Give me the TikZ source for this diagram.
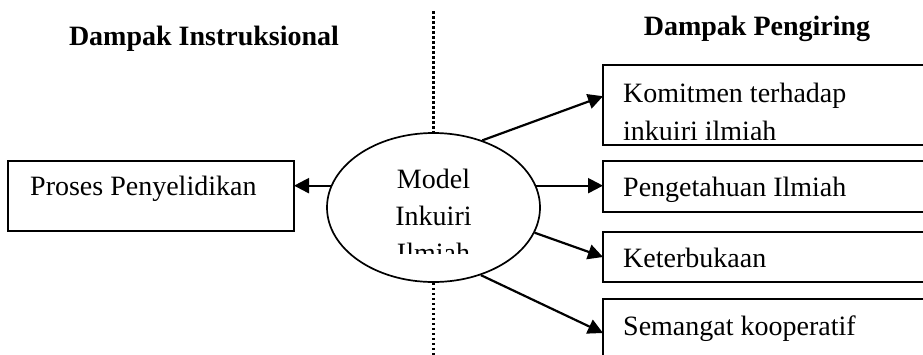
\documentclass[tikz,border=0pt]{standalone}
\usepackage{fontspec}
\setmainfont{Liberation Serif}
\usetikzlibrary{shapes.geometric,arrows.meta,calc}
\begin{document}
\begin{tikzpicture}[x=1pt,y=-1pt,
  box/.style={draw, line width=2.1pt, rectangle, inner sep=0pt, outer sep=0pt, anchor=north west},
  lbl/.style={inner sep=0pt, font=\fontsize{28}{34}\selectfont},
  ttl/.style={inner sep=0pt, font=\fontsize{28}{34}\selectfont\bfseries, anchor=base},
  arr/.style={line width=2.2pt, -{Triangle[length=15pt,width=15pt]}},
  dotline/.style={line width=2.8pt, dash pattern=on 2.6pt off 2.4pt}]
\clip (0,0) rectangle (923,354);
\fill[white] (0,0) rectangle (923,354);

% titles
\node[ttl] (ti) at (204,45) {Dampak Instruksional};
\node[ttl] (tp) at (757,35) {Dampak Pengiring};

% ellipse
\node[draw, ellipse, line width=1.7pt, minimum width=213pt, minimum height=149pt, inner sep=0pt] (ell) at (433.5,207.5) {};
\node[lbl, anchor=base] (m1) at (433.5,188) {Model};
\node[lbl, anchor=base] (m2) at (433.5,225) {Inkuiri};
\begin{scope}
\clip (0,0) rectangle (923,253);
\node[lbl, anchor=base] (m3) at (433.5,262) {Ilmiah};
\end{scope}

% dotted divider
\coordinate (dtop) at (433.5,11);
\coordinate (dbot) at (433.5,360);
\draw[dotline] (dtop) -- (ell.north);
\draw[dotline] (ell.south) -- (dbot);

% boxes
\node[box, minimum width=286pt, minimum height=70pt] (lb) at (8,161) {};
\node[box, minimum width=340pt, minimum height=80pt] (b1) at (603,65) {};
\node[box, minimum width=340pt, minimum height=51pt] (b2) at (603,161) {};
\node[box, minimum width=340pt, minimum height=50pt] (b3) at (603,232) {};
\node[box, minimum width=340pt, minimum height=68pt] (b4) at (603,299) {};

% box texts
\node[lbl, anchor=base west] (tl) at (30,195) {Proses Penyelidikan};
\node[lbl, anchor=base west] (k1) at (623,102) {Komitmen terhadap};
\begin{scope}
\clip (0,0) rectangle (923,139);
\node[lbl, anchor=base west] (k2) at (623,140) {inkuiri ilmiah};
\end{scope}
\node[lbl, anchor=base west] (t2) at (623,196) {Pengetahuan Ilmiah};
\node[lbl, anchor=base west] (t3) at (623,267) {Keterbukaan};
\node[lbl, anchor=base west] (t4) at (623,335) {Semangat kooperatif};

% arrows
\draw[arr] (ell.54) -- ($(b1.north west)!0.39!(b1.south west)$);
\draw[arr] (ell.12) -- (ell.12 -| b2.west);
\draw[arr] (ell.-14) -- (b3.west);
\draw[arr] (ell.-55) -- (b4.west);
\draw[arr] (ell.168) -- (ell.168 -| lb.east);
\end{tikzpicture}
\end{document}
